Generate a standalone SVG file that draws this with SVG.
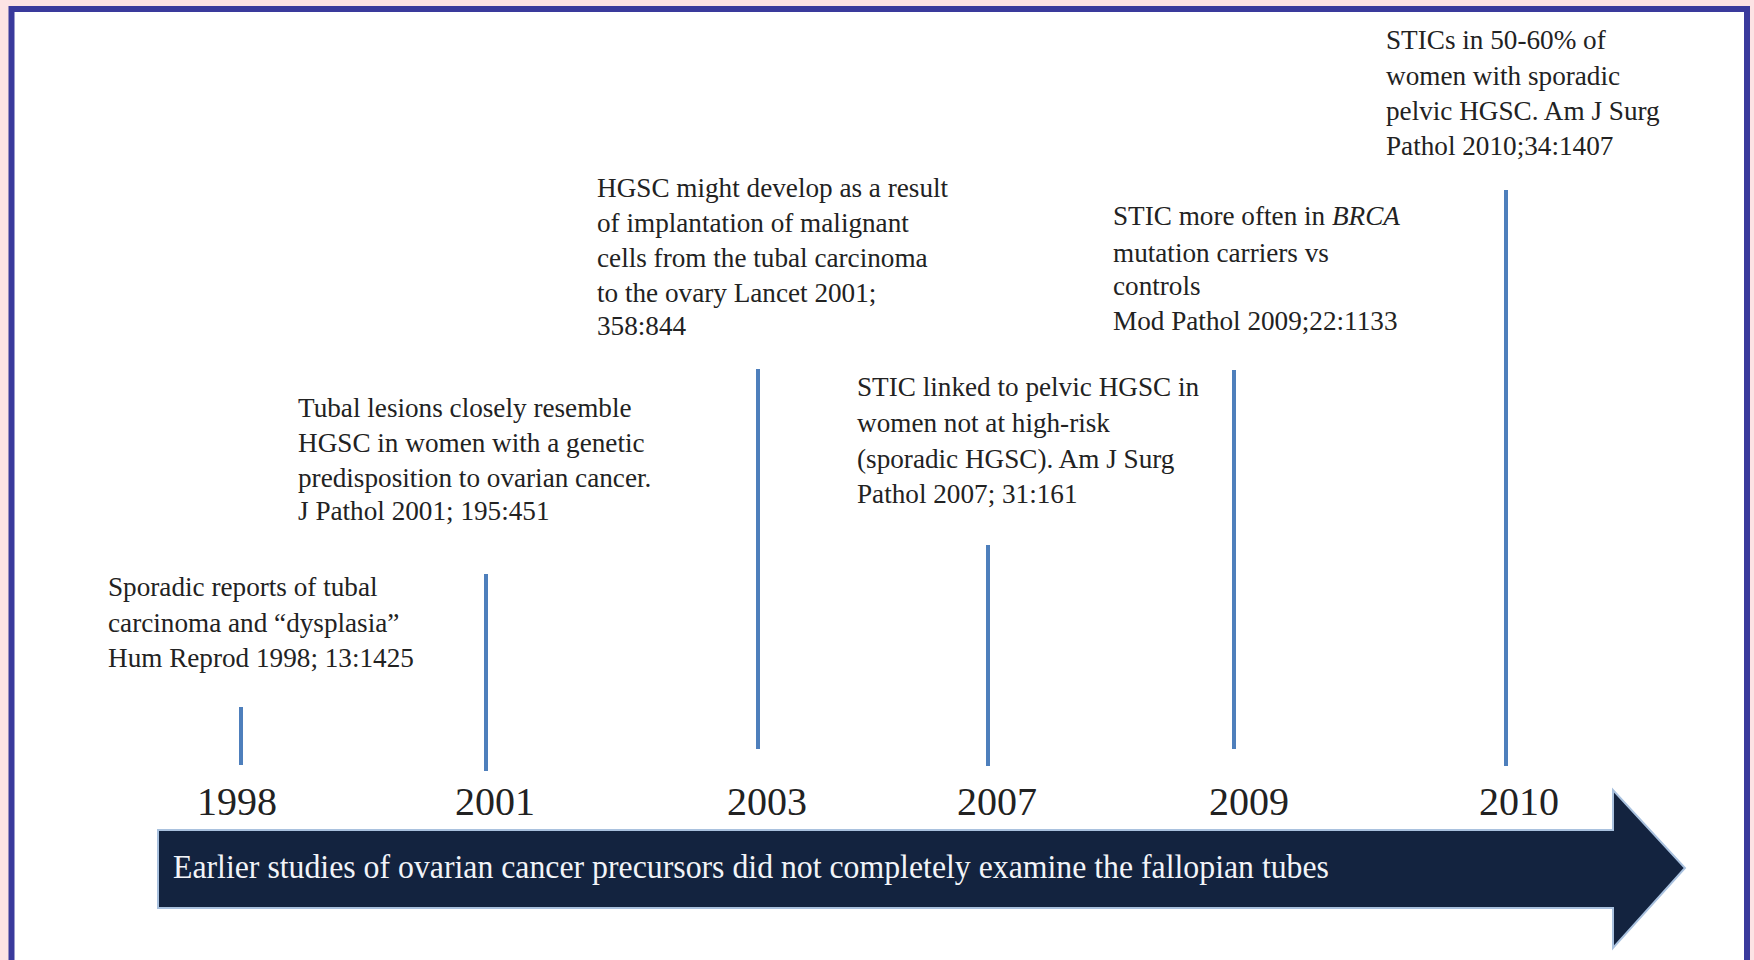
<svg xmlns="http://www.w3.org/2000/svg" width="1754" height="960" viewBox="0 0 1754 960">
<style>
.note{font-family:"Liberation Serif","Times New Roman",serif;font-size:27.2px;fill:#222}
.year{font-family:"Liberation Serif","Times New Roman",serif;font-size:40px;fill:#222;text-anchor:middle}
.band{font-family:"Liberation Serif","Times New Roman",serif;font-size:33px;fill:#f2f4f8}
.tick{stroke:#4e7fbc;stroke-width:4;fill:none}
</style>
<rect x="0" y="0" width="1754" height="960" fill="#fde3e4"/>
<rect x="11.5" y="9" width="1735.5" height="1000" fill="#ffffff" stroke="#3a3a9c" stroke-width="6"/>
<g id="timeline-arrow">
<polygon points="158,830 1613,830 1613,790 1685,868 1613,948 1613,908 158,908" fill="#13233f" stroke="#a9c1de" stroke-width="2" stroke-linejoin="miter"/>
<text class="band" x="173" y="878" textLength="1156" lengthAdjust="spacingAndGlyphs">Earlier studies of ovarian cancer precursors did not completely examine the fallopian tubes</text>
</g>
<g id="connectors">
<line class="tick" x1="241" y1="707" x2="241" y2="765"/>
<line class="tick" x1="486" y1="574" x2="486" y2="771"/>
<line class="tick" x1="758" y1="369" x2="758" y2="749"/>
<line class="tick" x1="988" y1="545" x2="988" y2="766"/>
<line class="tick" x1="1234" y1="370" x2="1234" y2="749"/>
<line class="tick" x1="1506" y1="190" x2="1506" y2="766"/>
</g>
<g id="event-1998">
<text class="note" x="108" y="596">Sporadic reports of tubal</text>
<text class="note" x="108" y="632">carcinoma and “dysplasia”</text>
<text class="note" x="108" y="667">Hum Reprod 1998; 13:1425</text>
<text class="year" x="237" y="815">1998</text>
</g>
<g id="event-2001">
<text class="note" x="298" y="417">Tubal lesions closely resemble</text>
<text class="note" x="298" y="452">HGSC in women with a genetic</text>
<text class="note" x="298" y="487">predisposition to ovarian cancer.</text>
<text class="note" x="298" y="520">J Pathol 2001; 195:451</text>
<text class="year" x="495" y="815">2001</text>
</g>
<g id="event-2003">
<text class="note" x="597" y="197">HGSC might develop as a result</text>
<text class="note" x="597" y="232">of implantation of malignant</text>
<text class="note" x="597" y="267">cells from the tubal carcinoma</text>
<text class="note" x="597" y="302">to the ovary Lancet 2001;</text>
<text class="note" x="597" y="335">358:844</text>
<text class="year" x="767" y="815">2003</text>
</g>
<g id="event-2007">
<text class="note" x="857" y="396">STIC linked to pelvic HGSC in</text>
<text class="note" x="857" y="432">women not at high-risk</text>
<text class="note" x="857" y="468">(sporadic HGSC). Am J Surg</text>
<text class="note" x="857" y="503">Pathol 2007; 31:161</text>
<text class="year" x="997" y="815">2007</text>
</g>
<g id="event-2009">
<text class="note" x="1113" y="225">STIC more often in <tspan font-style="italic">BRCA</tspan></text>
<text class="note" x="1113" y="262">mutation carriers vs</text>
<text class="note" x="1113" y="295">controls</text>
<text class="note" x="1113" y="330">Mod Pathol 2009;22:1133</text>
<text class="year" x="1249" y="815">2009</text>
</g>
<g id="event-2010">
<text class="note" x="1386" y="49">STICs in 50-60% of</text>
<text class="note" x="1386" y="85">women with sporadic</text>
<text class="note" x="1386" y="120">pelvic HGSC. Am J Surg</text>
<text class="note" x="1386" y="155">Pathol 2010;34:1407</text>
<text class="year" x="1519" y="815">2010</text>
</g>
</svg>
